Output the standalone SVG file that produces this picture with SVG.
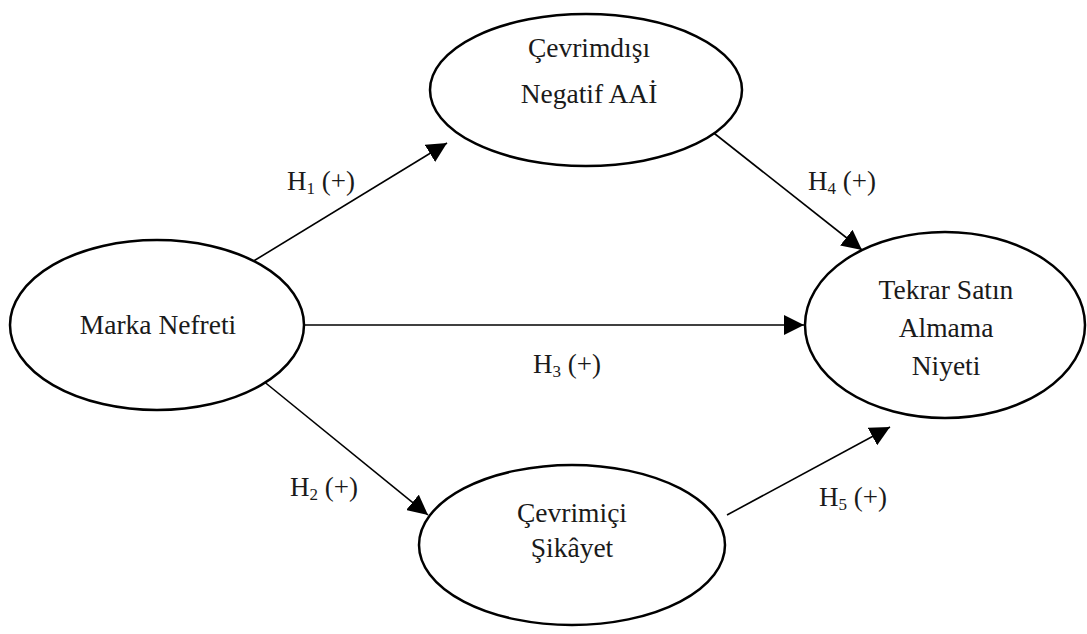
<svg xmlns="http://www.w3.org/2000/svg" width="1087" height="634" viewBox="0 0 1087 634">
<defs>
<style>
.node{fill:#fff;stroke:#000;stroke-width:2.5}
.t{font-family:"Liberation Serif","Times New Roman",serif;font-size:27.5px;fill:#1a1a1a;text-anchor:middle}
.lbl{font-family:"Liberation Serif","Times New Roman",serif;font-size:27px;fill:#1a1a1a}
.sub{font-size:17px}
.edge{stroke:#000;stroke-width:1.6;fill:none;marker-end:url(#ah)}
</style>
<marker id="ah" markerUnits="userSpaceOnUse" markerWidth="22" markerHeight="20" refX="20" refY="10" orient="auto">
<path d="M0,0 L20,10 L0,20 Z" fill="#000"/>
</marker>
</defs>
<rect width="1087" height="634" fill="#fff"/>
<g id="connectors">
<line class="edge" x1="252" y1="262" x2="447" y2="143"/>
<line class="edge" x1="710" y1="130" x2="862" y2="250"/>
<line class="edge" x1="305" y1="325" x2="804" y2="325"/>
<line class="edge" x1="262" y1="380" x2="428" y2="515"/>
<line class="edge" x1="727" y1="515" x2="890" y2="427"/>
<text class="lbl" x="287" y="190">H<tspan class="sub" dy="4">1</tspan><tspan dy="-4"> (+)</tspan></text>
<text class="lbl" x="808" y="190">H<tspan class="sub" dy="4">4</tspan><tspan dy="-4"> (+)</tspan></text>
<text class="lbl" x="533" y="373">H<tspan class="sub" dy="4">3</tspan><tspan dy="-4"> (+)</tspan></text>
<text class="lbl" x="290" y="496">H<tspan class="sub" dy="4">2</tspan><tspan dy="-4"> (+)</tspan></text>
<text class="lbl" x="819" y="506">H<tspan class="sub" dy="4">5</tspan><tspan dy="-4"> (+)</tspan></text>
</g>
<g id="cevrimdisi">
<ellipse class="node" cx="586" cy="90" rx="156" ry="76"/>
<text class="t" x="589" y="57">Çevrimdışı</text>
<text class="t" x="589" y="103">Negatif AAİ</text>
</g>
<g id="marka">
<ellipse class="node" cx="157" cy="325" rx="147" ry="85"/>
<text class="t" x="158" y="334">Marka Nefreti</text>
</g>
<g id="tekrar">
<ellipse class="node" cx="945" cy="325" rx="140" ry="93"/>
<text class="t" x="946" y="299">Tekrar Satın</text>
<text class="t" x="946" y="337">Almama</text>
<text class="t" x="946" y="375">Niyeti</text>
</g>
<g id="cevrimici">
<ellipse class="node" cx="572" cy="545" rx="153" ry="80"/>
<text class="t" x="572" y="522">Çevrimiçi</text>
<text class="t" x="572" y="557">Şikâyet</text>
</g>
</svg>
